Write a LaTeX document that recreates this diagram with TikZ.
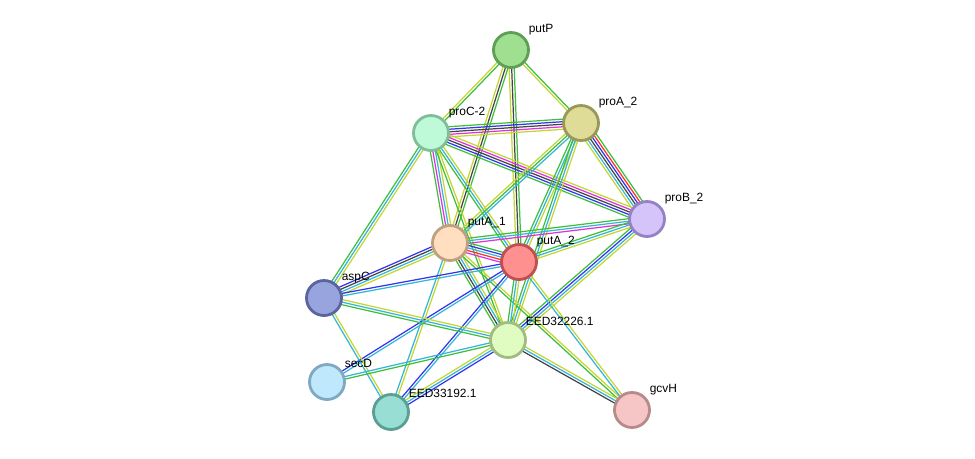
\documentclass[tikz,border=0pt]{standalone}
\usepackage{fontspec}
\setmainfont{Liberation Sans}
\usetikzlibrary{calc, backgrounds}

\definecolor{nbgreen}{HTML}{3DBF3D}
\definecolor{txyellow}{HTML}{C4D631}
\definecolor{coblack}{HTML}{444444}
\definecolor{ocblue}{HTML}{3333F0}
\definecolor{exmag}{HTML}{DD33DD}
\definecolor{dbcyan}{HTML}{35B5D8}
\definecolor{fured}{HTML}{FF3030}

% one connector = a bundle of parallel thin lines
\newcommand\bundle[3]{%
  \foreach \col [count=\n] in {#3}{\xdef\nbund{\n}}%
  \foreach \col [count=\i] in {#3}{%
    \pgfmathsetmacro\off{(\i-(\nbund+1)/2)*1.45}%
    \draw[evidence, \col] ($(#1)!\off pt!90:(#2)$) -- ($(#2)!\off pt!-90:(#1)$);
  }%
}

\begin{document}
\begin{tikzpicture}[x=0.02cm, y=-0.02cm,
    protein/.style={circle, line width=1.6pt, minimum size=0.7cm, inner sep=0pt},
    lbl/.style={font=\fontsize{6.8}{8}\selectfont, inner sep=2.3pt, label distance=-2.5pt, xshift=1.8pt},
    evidence/.style={line width=0.7pt}]
\useasboundingbox (0,0) rectangle (975,458);

\node (putP) [protein, fill={rgb,255:red,159;green,223;blue,144}, draw={rgb,255:red,94;green,158;blue,85}, label={[lbl]45:putP}] at (511,50) {};
\node (proA) [protein, fill={rgb,255:red,222;green,220;blue,150}, draw={rgb,255:red,154;green,152;blue,88}, label={[lbl]45:proA\_2}] at (581,123) {};
\node (proC) [protein, fill={rgb,255:red,191;green,250;blue,216}, draw={rgb,255:red,127;green,191;blue,151}, label={[lbl]45:proC-2}] at (431,133) {};
\node (proB) [protein, fill={rgb,255:red,212;green,196;blue,250}, draw={rgb,255:red,148;green,130;blue,196}, label={[lbl]45:proB\_2}] at (647,219) {};
\node (putA1) [protein, fill={rgb,255:red,255;green,223;blue,191}, draw={rgb,255:red,191;green,160;blue,128}, label={[lbl]45:putA\_1}] at (450,243) {};
\node (putA2) [protein, fill={rgb,255:red,255;green,144;blue,144}, draw={rgb,255:red,191;green,80;blue,80}, label={[lbl]45:putA\_2}] at (519,262) {};
\node (aspC) [protein, fill={rgb,255:red,152;green,164;blue,222}, draw={rgb,255:red,90;green,101;blue,160}, label={[lbl]45:aspC}] at (324,298) {};
\node (eed26) [protein, fill={rgb,255:red,224;green,252;blue,192}, draw={rgb,255:red,160;green,188;blue,128}, label={[lbl]45:EED32226.1}] at (508,340) {};
\node (secD) [protein, fill={rgb,255:red,192;green,232;blue,252}, draw={rgb,255:red,128;green,168;blue,192}, label={[lbl]45:secD}] at (327,382) {};
\node (eed92) [protein, fill={rgb,255:red,152;green,222;blue,212}, draw={rgb,255:red,90;green,158;blue,148}, label={[lbl]45:EED33192.1}] at (391,412) {};
\node (gcvH) [protein, fill={rgb,255:red,246;green,198;blue,198}, draw={rgb,255:red,184;green,138;blue,138}, label={[lbl]45:gcvH}] at (632,410) {};

\begin{scope}[on background layer]
\bundle{putP}{proC}{txyellow,nbgreen}
\bundle{putP}{proA}{txyellow,nbgreen}
\bundle{putP}{putA1}{txyellow,coblack,nbgreen}
\bundle{putP}{putA2}{txyellow,coblack,nbgreen}
\bundle{proC}{proA}{txyellow,exmag,coblack,ocblue,nbgreen}
\bundle{proC}{proB}{nbgreen,ocblue,coblack,exmag,txyellow}
\bundle{proA}{proB}{txyellow,dbcyan,coblack,ocblue,fured,nbgreen}
\bundle{proC}{putA1}{nbgreen,exmag,dbcyan,txyellow}
\bundle{proC}{putA2}{nbgreen,dbcyan,txyellow}
\bundle{proC}{eed26}{nbgreen,txyellow}
\bundle{proC}{aspC}{nbgreen,dbcyan,txyellow}
\bundle{proA}{putA1}{txyellow,nbgreen,dbcyan}
\bundle{proA}{putA2}{nbgreen,dbcyan,txyellow}
\bundle{proA}{eed26}{nbgreen,dbcyan,txyellow}
\bundle{proB}{putA1}{nbgreen,dbcyan,exmag}
\bundle{proB}{putA2}{nbgreen,dbcyan,txyellow}
\bundle{proB}{eed26}{nbgreen,ocblue,dbcyan,txyellow}
\bundle{putA1}{putA2}{exmag,fured,dbcyan,ocblue,nbgreen}
\bundle{putA1}{aspC}{ocblue,coblack,dbcyan,txyellow}
\bundle{putA1}{eed26}{nbgreen,coblack,dbcyan,txyellow}
\bundle{putA1}{eed92}{dbcyan,txyellow}
\bundle{putA1}{gcvH}{nbgreen,txyellow}
\bundle{putA2}{aspC}{ocblue,dbcyan}
\bundle{putA2}{secD}{ocblue,dbcyan}
\bundle{putA2}{eed92}{ocblue,dbcyan}
\bundle{putA2}{eed26}{nbgreen,dbcyan,txyellow}
\bundle{putA2}{gcvH}{dbcyan,txyellow}
\bundle{eed26}{gcvH}{coblack,dbcyan,txyellow}
\bundle{aspC}{eed26}{nbgreen,dbcyan,txyellow}
\bundle{aspC}{eed92}{dbcyan,txyellow}
\bundle{secD}{eed26}{nbgreen,dbcyan}
\bundle{eed92}{eed26}{ocblue,dbcyan,txyellow}
\end{scope}
\end{tikzpicture}
\end{document}
